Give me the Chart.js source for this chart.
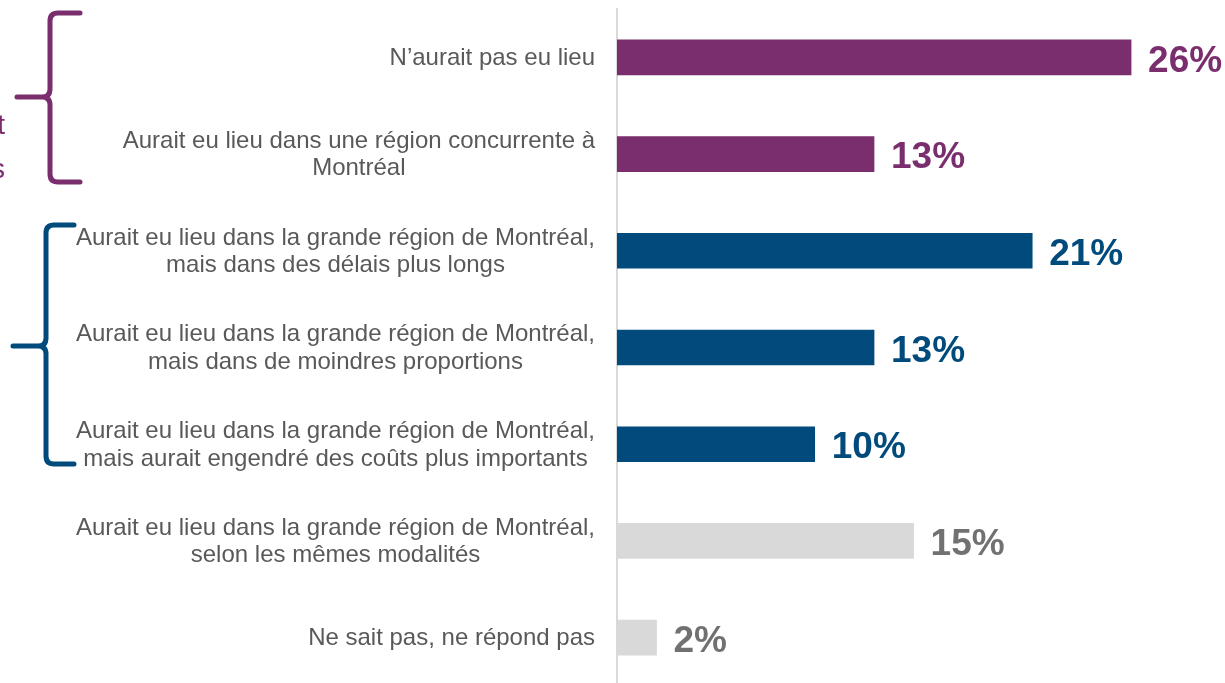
<!DOCTYPE html>
<html>
<head>
<meta charset="utf-8">
<script src="https://cdn.jsdelivr.net/npm/chart.js@4"></script>
<style>
html,body{margin:0;padding:0;background:#fff;overflow:hidden;}
#wrap{width:1225px;height:686px;position:relative;}
</style>
</head>
<body>
<div id="wrap"><canvas id="c" width="1225" height="686"></canvas></div>
<script>
// ---- data ----
const categories = [
  ["N\u2019aurait pas eu lieu"],
  ["Aurait eu lieu dans une région concurrente à", "Montréal"],
  ["Aurait eu lieu dans la grande région de Montréal,", "mais dans des délais plus longs"],
  ["Aurait eu lieu dans la grande région de Montréal,", "mais dans de moindres proportions"],
  ["Aurait eu lieu dans la grande région de Montréal,", "mais aurait engendré des coûts plus importants"],
  ["Aurait eu lieu dans la grande région de Montréal,", "selon les mêmes modalités"],
  ["Ne sait pas, ne répond pas"]
];
const values = [26, 13, 21, 13, 10, 15, 2];
const valueLabels = ["26%", "13%", "21%", "13%", "10%", "15%", "2%"];
const sideLabels = ["Impact", "négatifs"];

// ---- styles ----
const PURPLE = "#7a2e6d", BLUE = "#004b7c", GRAY = "#d9d9d9", GRAYTXT = "#717171";
const barColors = [PURPLE, PURPLE, BLUE, BLUE, BLUE, GRAY, GRAY];
const valueColors = [PURPLE, PURPLE, BLUE, BLUE, BLUE, GRAYTXT, GRAYTXT];

const overlay = {
  id: "overlay",
  afterDatasetsDraw(chart) {
    const ctx = chart.ctx;
    const ys = chart.scales.y;
    const meta = chart.getDatasetMeta(0);
    ctx.save();
    // category labels: block right-aligned, lines centered
    ctx.font = "24px 'Liberation Sans', Arial, sans-serif";
    ctx.fillStyle = "#595959";
    ctx.textBaseline = "middle";
    ctx.textAlign = "center";
    const lh = 27.5, rightEdge = 595;
    categories.forEach((lines, i) => {
      const cy = ys.getPixelForValue(i) + 1;
      const w = Math.max(...lines.map(l => ctx.measureText(l).width));
      const cx = rightEdge - w / 2;
      const y0 = cy - (lines.length - 1) * lh / 2;
      lines.forEach((l, k) => ctx.fillText(l, cx, y0 + k * lh));
    });
    // value labels
    ctx.font = "bold 37px 'Liberation Sans', Arial, sans-serif";
    ctx.textAlign = "left";
    meta.data.forEach((bar, i) => {
      ctx.fillStyle = valueColors[i];
      ctx.fillText(valueLabels[i], bar.x + 17, bar.y + 4);
    });
    // braces
    function brace(x, top, bottom, tipX, midY, armX, color) {
      const r = 8;
      ctx.strokeStyle = color;
      ctx.lineWidth = 5;
      ctx.lineCap = "round";
      ctx.lineJoin = "round";
      ctx.beginPath();
      ctx.moveTo(armX, top);
      ctx.lineTo(x + r, top);
      ctx.quadraticCurveTo(x, top, x, top + r);
      ctx.lineTo(x, midY - r);
      ctx.quadraticCurveTo(x, midY, x - r, midY);
      ctx.lineTo(tipX, midY);
      ctx.moveTo(x - r, midY);
      ctx.quadraticCurveTo(x, midY, x, midY + r);
      ctx.lineTo(x, bottom - r);
      ctx.quadraticCurveTo(x, bottom, x + r, bottom);
      ctx.lineTo(armX, bottom);
      ctx.stroke();
    }
    brace(50, 13, 182, 17, 97, 80, PURPLE);
    brace(46, 225, 464, 13, 346, 74, BLUE);
    // cut-off side text
    ctx.font = "28px 'Liberation Sans', Arial, sans-serif";
    ctx.fillStyle = PURPLE;
    ctx.textAlign = "right";
    ctx.textBaseline = "alphabetic";
    ctx.fillText(sideLabels[0], 5, 134);
    ctx.fillText(sideLabels[1], 5, 178);
    ctx.restore();
  }
};

new Chart(document.getElementById("c"), {
  type: "bar",
  data: {
    labels: categories.map(c => c.join(" ")),
    datasets: [{
      data: values,
      backgroundColor: barColors,
      borderWidth: 0,
      barThickness: 35
    }]
  },
  options: {
    indexAxis: "y",
    responsive: false,
    animation: false,
    layout: { padding: { top: 9, bottom: 0, left: 0, right: 0 } },
    plugins: { legend: { display: false }, tooltip: { enabled: false } },
    scales: {
      x: { display: false, min: 0, max: 30.75 },
      y: {
        display: true,
        grid: { display: false, drawTicks: false },
        border: { display: true, color: "#d9d9d9", width: 2 },
        ticks: { display: false },
        afterFit(scale) { scale.width = 617; }
      }
    }
  },
  plugins: [overlay]
});
</script>
</body>
</html>
